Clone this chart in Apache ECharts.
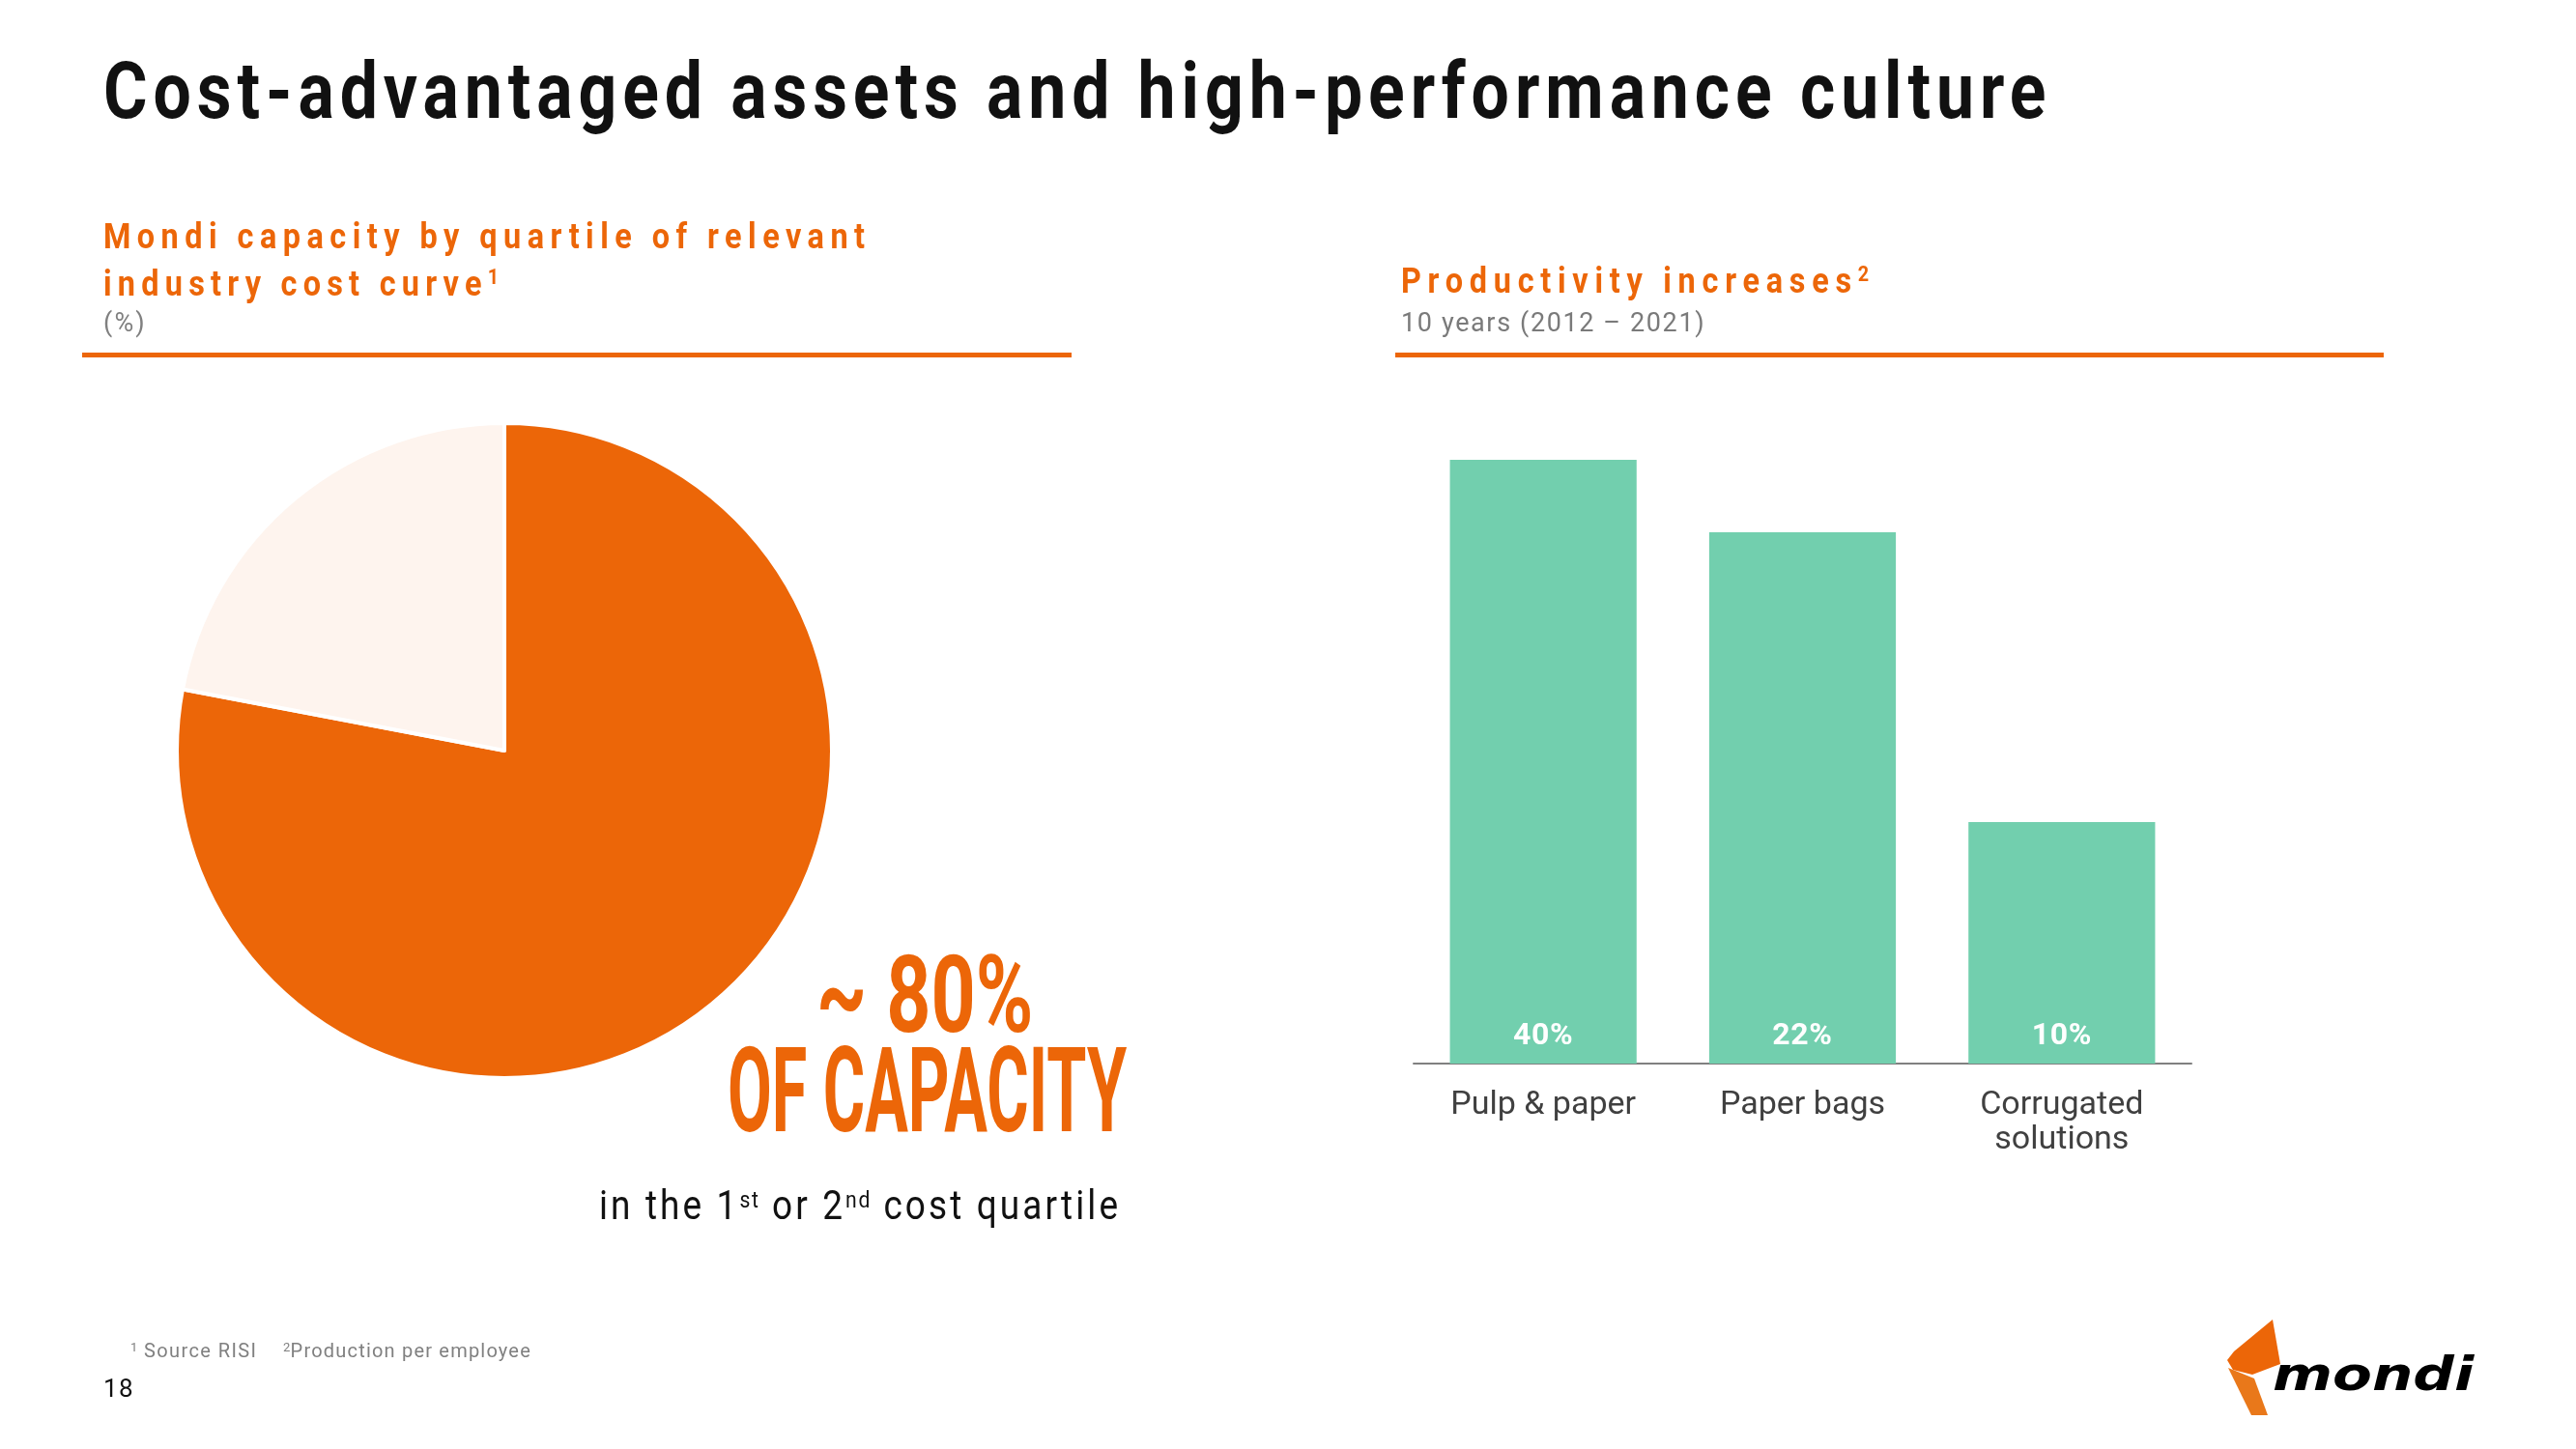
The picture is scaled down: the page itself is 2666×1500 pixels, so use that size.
<!DOCTYPE html>
<html><head><meta charset="utf-8">
<script src="https://cdn.jsdelivr.net/npm/echarts@6/dist/echarts.min.js"></script>
<style>html,body{margin:0;padding:0;background:#fff}#chart{width:2666px;height:1500px}</style>
</head><body><div id="chart"></div>
<script>
// ---------------- data ----------------
const pieCategories = ['1st or 2nd cost quartile', 'Other quartiles'];
const pieShares = [78, 22];
const barCategories = ['Pulp & paper', 'Paper bags', 'Corrugated\nsolutions'];
const barHeights = [100, 88, 40];          // relative bar heights as drawn
const barLabels = ['40%', '22%', '10%'];   // printed productivity increases

// ---------------- styles ----------------
const ORANGE = '#EC6608';
const LIGHT = '#FEF4EE';
const GREEN = '#72CFAE';
const BASE = '"Roboto", "Liberation Sans", sans-serif';
const K = 0.27;

// letter tracking: a dummy family name "trkNNN" carries tracking in 1/1000 em
(function () {
  const P = CanvasRenderingContext2D.prototype;
  function apply(ctx) {
    try {
      const f = ctx.font || '';
      const m = /(\d+(?:\.\d+)?)px/.exec(f);
      const t = /trk(\d+)/.exec(f);
      const v = (m && t) ? parseFloat(m[1]) * parseInt(t[1], 10) / 1000 : 0;
      ctx.letterSpacing = v.toFixed(2) + 'px';
    } catch (e) {}
  }
  const fT = P.fillText, mT = P.measureText, sT = P.strokeText;
  P.fillText = function () { apply(this); return fT.apply(this, arguments); };
  P.strokeText = function () { apply(this); return sT.apply(this, arguments); };
  P.measureText = function () { apply(this); return mT.apply(this, arguments); };
})();
function fam(trk, base) { return '"trk' + (trk || 0) + '", ' + (base || BASE); }

function txt(x, baseline, text, fs, o) {
  o = o || {};
  const L = o.lh || fs;
  const top = baseline - L / 2 - K * fs;
  return {
    type: 'text', x: x, y: top, scaleX: o.sx || 1, silent: true,
    style: {
      x: 0, y: 0, text: text, fill: o.color || '#000',
      fontSize: fs, fontWeight: o.bold ? 'bold' : 'normal', fontStyle: o.italic ? 'italic' : 'normal',
      fontFamily: fam(o.trk, o.family), lineHeight: L,
      align: 'left', verticalAlign: 'top', rich: o.rich
    }
  };
}
function sup(fs, trk, color, bold) {
  return { fontSize: fs, lineHeight: fs, verticalAlign: 'top', fontFamily: fam(trk), fill: color, fontWeight: bold ? 'bold' : 'normal' };
}

const graphic = [
  txt(107, 124, 'Cost-advantaged assets and high-performance culture', 82, { bold: true, trk: 85, sx: 0.85, color: '#111' }),
  // left panel header
  txt(107, 258, 'Mondi capacity by quartile of relevant', 36, { bold: true, trk: 200, sx: 0.9, color: ORANGE, lh: 40 }),
  txt(107, 307, 'industry cost curve{s|1}', 36, { bold: true, trk: 193, sx: 0.9, color: ORANGE, lh: 40, rich: { s: sup(22, 60, ORANGE, true) } }),
  txt(107, 344, '(%)', 27, { trk: 80, color: '#808080' }),
  { type: 'rect', silent: true, shape: { x: 85, y: 365, width: 1024, height: 5 }, style: { fill: ORANGE } },
  // right panel header
  txt(1450, 304, 'Productivity increases{s|2}', 36, { bold: true, trk: 208, sx: 0.9, color: ORANGE, lh: 40, rich: { s: sup(22, 60, ORANGE, true) } }),
  txt(1450, 344, '10 years (2012 \u2013 2021)', 27, { trk: 60, color: '#7a7a7a' }),
  { type: 'rect', silent: true, shape: { x: 1444, y: 365, width: 1023, height: 5 }, style: { fill: ORANGE } },
  // callout
  txt(845, 1070, '~ 80%', 112, { bold: true, trk: 0, color: ORANGE, sx: 0.72 }),
  txt(753, 1173, 'OF CAPACITY', 123, { bold: true, trk: 0, color: ORANGE, sx: 0.54 }),
  txt(620, 1263, 'in the 1{s|st} or 2{s|nd} cost quartile', 42, { trk: 84, sx: 0.88, color: '#111', lh: 42, rich: { s: sup(24, 84, '#111') } }),
  // footnotes
  txt(135, 1405, '{s|1} Source RISI', 20, { trk: 70, color: '#808080', lh: 20, rich: { s: sup(13, 20, '#808080') } }),
  txt(293, 1405, '{s|2}Production per employee', 20, { trk: 60, color: '#808080', lh: 20, rich: { s: sup(13, 20, '#808080') } }),
  txt(107, 1447, '18', 26, { trk: 50, color: '#111' }),
  // logo
  { type: 'polygon', silent: true, shape: { points: [[2352, 1366], [2360, 1412], [2331, 1423], [2311, 1418], [2305, 1408], [2312, 1399]] }, style: { fill: ORANGE } },
  { type: 'polygon', silent: true, shape: { points: [[2306, 1416], [2333, 1427], [2347, 1465], [2330, 1465]] }, style: { fill: '#E9781A' } },
  txt(2352, 1439, 'mondi', 48, { bold: true, italic: true, trk: 0, family: '"DejaVu Sans", sans-serif', color: '#000', sx: 1.24 })
];

const chart = echarts.init(document.getElementById('chart'), null, { renderer: 'canvas' });
chart.setOption({
  backgroundColor: '#fff',
  animation: false,
  grid: { left: 1463, right: 398, top: 476, bottom: 399 },
  xAxis: {
    type: 'category', data: barCategories,
    axisLine: { lineStyle: { color: '#808080', width: 2 } },
    axisTick: { show: false },
    axisLabel: { interval: 0, color: '#404040', fontSize: 34, fontFamily: fam(0), lineHeight: 36, margin: 25 }
  },
  yAxis: { type: 'value', min: 0, max: 100, show: false, splitLine: { show: false } },
  series: [
    {
      type: 'pie', center: [522, 777], radius: 339, startAngle: 90, clockwise: true, silent: true,
      label: { show: false }, labelLine: { show: false },
      itemStyle: { borderColor: '#fff', borderWidth: 4 },
      data: pieCategories.map((n, i) => ({ name: n, value: pieShares[i], itemStyle: { color: [ORANGE, LIGHT][i] } }))
    },
    {
      type: 'bar', data: barHeights, barWidth: '72%', silent: true,
      itemStyle: { color: GREEN },
      label: {
        show: true, position: 'insideBottom', distance: 12,
        formatter: p => barLabels[p.dataIndex],
        color: '#fff', fontSize: 32, fontWeight: 'bold', fontFamily: fam(20), lineHeight: 32
      }
    }
  ],
  graphic: graphic
});
</script></body></html>
